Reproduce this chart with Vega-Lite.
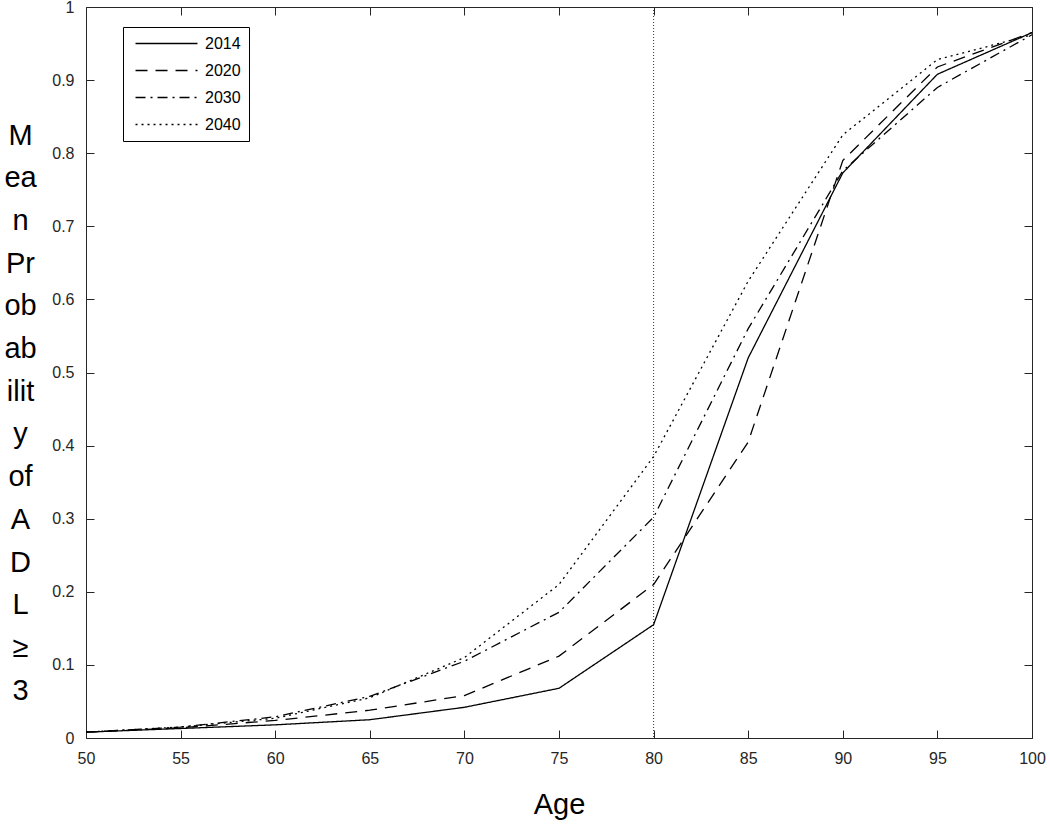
{
  "$schema": "https://vega.github.io/schema/vega-lite/v6.json",
  "width": 946,
  "height": 731,
  "autosize": {"type": "none"},
  "padding": {"left": 86, "top": 7, "right": 18, "bottom": 91},
  "background": "white",
  "config": {
    "font": "Liberation Sans",
    "view": {"stroke": "#262626", "strokeWidth": 1},
    "axis": {"domain": false, "grid": false, "labelFont": "Liberation Sans", "labelFontSize": 16, "labelColor": "#262626", "labelFlush": false, "labelOverlap": false, "tickColor": "#262626", "tickSize": -8, "titleFont": "Liberation Sans", "titleFontWeight": "normal", "titleColor": "#000000"}
  },
  "resolve": {"axis": {"x": "independent", "y": "independent"}},
  "layer": [
    {
      "data": {"values": [{"x": 80}]},
      "mark": {"type": "rule", "color": "#333333", "strokeWidth": 1, "strokeDash": [1, 2]},
      "encoding": {
        "x": {"field": "x", "type": "quantitative", "scale": {"domain": [50, 100], "nice": false}, "axis": {"orient": "top", "labels": false, "title": null, "values": [50,55,60,65,70,75,80,85,90,95,100]}}
      }
    },
    {
      "data": {"values": [{"x": 100, "y": 0}]},
      "mark": {"type": "point", "opacity": 0},
      "encoding": {
        "x": {"field": "x", "type": "quantitative", "scale": {"domain": [50, 100], "nice": false}, "axis": null},
        "y": {"field": "y", "type": "quantitative", "scale": {"domain": [0, 1], "nice": false}, "axis": {"orient": "right", "labels": false, "title": null, "values": [0,0.1,0.2,0.3,0.4,0.5,0.6,0.7,0.8,0.9,1]}}
      }
    },
    {
      "data": {"values": [
        {"age": 50, "year": "2014", "p": 0.008}, {"age": 55, "year": "2014", "p": 0.013}, {"age": 60, "year": "2014", "p": 0.018}, {"age": 65, "year": "2014", "p": 0.025}, {"age": 70, "year": "2014", "p": 0.042}, {"age": 75, "year": "2014", "p": 0.068}, {"age": 80, "year": "2014", "p": 0.155}, {"age": 85, "year": "2014", "p": 0.52}, {"age": 90, "year": "2014", "p": 0.773}, {"age": 95, "year": "2014", "p": 0.908}, {"age": 100, "year": "2014", "p": 0.965},
        {"age": 50, "year": "2020", "p": 0.008}, {"age": 55, "year": "2020", "p": 0.014}, {"age": 60, "year": "2020", "p": 0.024}, {"age": 65, "year": "2020", "p": 0.038}, {"age": 70, "year": "2020", "p": 0.058}, {"age": 75, "year": "2020", "p": 0.112}, {"age": 80, "year": "2020", "p": 0.21}, {"age": 85, "year": "2020", "p": 0.405}, {"age": 90, "year": "2020", "p": 0.79}, {"age": 95, "year": "2020", "p": 0.918}, {"age": 100, "year": "2020", "p": 0.965},
        {"age": 50, "year": "2030", "p": 0.008}, {"age": 55, "year": "2030", "p": 0.015}, {"age": 60, "year": "2030", "p": 0.029}, {"age": 65, "year": "2030", "p": 0.057}, {"age": 70, "year": "2030", "p": 0.105}, {"age": 75, "year": "2030", "p": 0.172}, {"age": 80, "year": "2030", "p": 0.302}, {"age": 85, "year": "2030", "p": 0.56}, {"age": 90, "year": "2030", "p": 0.776}, {"age": 95, "year": "2030", "p": 0.89}, {"age": 100, "year": "2030", "p": 0.962},
        {"age": 50, "year": "2040", "p": 0.008}, {"age": 55, "year": "2040", "p": 0.015}, {"age": 60, "year": "2040", "p": 0.027}, {"age": 65, "year": "2040", "p": 0.055}, {"age": 70, "year": "2040", "p": 0.11}, {"age": 75, "year": "2040", "p": 0.21}, {"age": 80, "year": "2040", "p": 0.385}, {"age": 85, "year": "2040", "p": 0.625}, {"age": 90, "year": "2040", "p": 0.825}, {"age": 95, "year": "2040", "p": 0.928}, {"age": 100, "year": "2040", "p": 0.962}
      ]},
      "mark": {"type": "line", "color": "#000000", "strokeWidth": 1.3},
      "encoding": {
        "x": {"field": "age", "type": "quantitative", "scale": {"domain": [50, 100], "nice": false},
          "axis": {"values": [50,55,60,65,70,75,80,85,90,95,100], "title": "Age", "titleFontSize": 29, "titlePadding": 24, "labelPadding": 20}},
        "y": {"field": "p", "type": "quantitative", "scale": {"domain": [0, 1], "nice": false},
          "axis": {"values": [0,0.1,0.2,0.3,0.4,0.5,0.6,0.7,0.8,0.9,1], "format": "~g", "labelPadding": 20,
            "title": ["M", "ea", "n", "Pr", "ob", "ab", "ilit", "y", "of", "A", "D", "L", "≥", "3"],
            "titleFontSize": 29, "titleLineHeight": 42.7, "titleAngle": 0, "titleAlign": "center", "titleBaseline": "middle", "titleX": -66, "titleY": 128}},
        "strokeDash": {"field": "year", "type": "nominal",
          "scale": {"domain": ["2014", "2020", "2030", "2040"], "range": [[1, 0], [12, 8], [10, 5, 2, 5], [2, 4]]},
          "legend": {"orient": "none", "legendX": 37, "legendY": 20, "title": null, "symbolType": "M-4,0H4", "symbolSize": 240, "symbolStrokeWidth": 1.3, "symbolStrokeColor": "#000000", "symbolOffset": 27, "labelFontSize": 16, "labelColor": "#000000", "rowPadding": 10, "strokeColor": "#000000", "fillColor": "white", "padding": 8, "labelOffset": 30}}
      }
    }
  ]
}
